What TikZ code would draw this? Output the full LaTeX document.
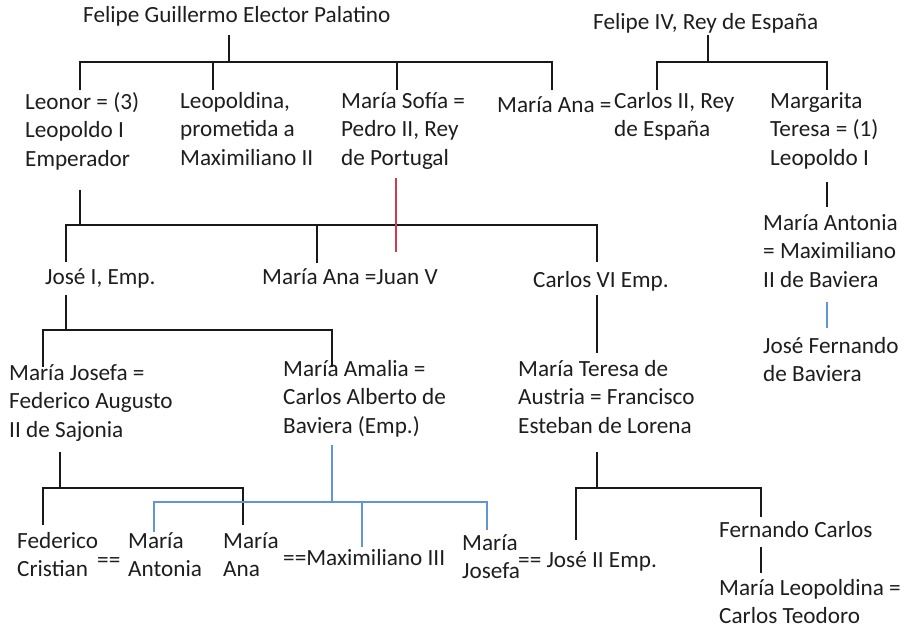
\documentclass[tikz,border=0pt]{standalone}
\usepackage{fontspec}
\setmainfont{Carlito}
\definecolor{kinred}{RGB}{214,56,78}
\definecolor{kinblue}{RGB}{96,150,215}
\definecolor{inkgray}{RGB}{30,30,30}
\tikzset{
  person/.style={anchor=north west, inner sep=0pt, align=left, text=inkgray,
    font=\fontsize{23.2}{28.5}\selectfont, execute at begin node=\strut},
  kin/.style={draw=black!90, line width=2.5pt},
  kinr/.style={draw=kinred, line width=2.3pt},
  kinb/.style={draw=kinblue, line width=2.3pt},
}
\begin{document}
\begin{tikzpicture}[x=1pt,y=-1pt]
\useasboundingbox[fill=white] (0,0) rectangle (907,629);
% people
\node[person] (fgep) at (83,2) {Felipe Guillermo Elector Palatino};
\node[person] (f4) at (593,9) {Felipe IV, Rey de España};
\node[person] (leonor) at (25,92) {Leonor = (3)\\Leopoldo I\\Emperador};
\node[person] (leopoldina) at (180,92) {Leopoldina,\\prometida a\\Maximiliano II};
\node[person] (msofia) at (341,92) {María Sofía =\\Pedro II, Rey\\de Portugal};
\node[person] (mana1) at (497,92) {María Ana =};
\node[person] (carlos2) at (614,92) {Carlos II, Rey\\de España};
\node[person] (margarita) at (770,92) {Margarita\\Teresa = (1)\\Leopoldo I};
\node[person] (mantonia) at (763,214) {María Antonia\\= Maximiliano\\II de Baviera};
\node[person] (josefernando) at (763,337) {José Fernando\\de Baviera};
\node[person] (jose1) at (45,264) {José I, Emp.};
\node[person] (mana2) at (262,264) {María Ana =Juan V};
\node[person] (carlos6) at (533,267) {Carlos VI Emp.};
\node[person] (mjosefa1) at (9,364) {María Josefa =\\Federico Augusto\\II de Sajonia};
\node[person] (mamalia) at (283,360) {María Amalia =\\Carlos Alberto de\\Baviera (Emp.)};
\node[person] (mteresa) at (518,360) {María Teresa de\\Austria = Francisco\\Esteban de Lorena};
\node[person] (fcristian) at (17,532) {Federico\\Cristian};
\node[person] (eq1) at (97,547) {==};
\node[person] (mantonia2) at (128,532) {María\\Antonia};
\node[person] (mana3) at (223,532) {María\\Ana};
\node[person] (maxiii) at (283,545) {==Maximiliano III};
\node[person] (mjosefa2) at (462,534) {María\\Josefa};
\node[person] (jose2) at (518,547) {== José II Emp.};
\node[person] (fcarlos) at (719,517) {Fernando Carlos};
\node[person] (mleopoldina) at (719,579) {María Leopoldina =\\Carlos Teodoro};
% junction coordinates
\coordinate (a0) at (229,35); \coordinate (a1) at (229,62);
\coordinate (aL) at (80,62); \coordinate (aR) at (552,62);
\coordinate (aLd) at (80,90); \coordinate (a2) at (213,62); \coordinate (a2d) at (213,90);
\coordinate (a3) at (397,62); \coordinate (a3d) at (397,90); \coordinate (aRd) at (552,90);
\coordinate (b0) at (708,35); \coordinate (b1) at (708,62);
\coordinate (bL) at (657,62); \coordinate (bR) at (827,62);
\coordinate (bLd) at (657,90); \coordinate (bRd) at (827,90);
\coordinate (c0) at (80,190); \coordinate (c1) at (80,225);
\coordinate (cL) at (66,225); \coordinate (cR) at (597,225);
\coordinate (cLd) at (66,262); \coordinate (c2) at (317,225); \coordinate (c2d) at (317,263);
\coordinate (cRd) at (597,262);
\coordinate (r0) at (396,178); \coordinate (r1) at (396,252);
\coordinate (d0) at (66,295); \coordinate (d1) at (66,330);
\coordinate (dL) at (43,330); \coordinate (dR) at (332,330);
\coordinate (dLd) at (43,367); \coordinate (dRd) at (332,367);
\coordinate (e0) at (597,295); \coordinate (e1) at (597,353);
\coordinate (m0) at (827,182); \coordinate (m1) at (827,207);
\coordinate (n0) at (827,302); \coordinate (n1) at (827,328);
\coordinate (f0) at (60,452); \coordinate (f1) at (60,488);
\coordinate (fL) at (43,488); \coordinate (fR) at (243,488);
\coordinate (fLd) at (43,525); \coordinate (fRd) at (243,525);
\coordinate (g0) at (332,445); \coordinate (g1) at (332,502);
\coordinate (gL) at (154,502); \coordinate (gR) at (487,502);
\coordinate (gLd) at (154,532); \coordinate (g2) at (362,502); \coordinate (g2d) at (362,547);
\coordinate (gRd) at (487,530);
\coordinate (h0) at (597,452); \coordinate (h1) at (597,488);
\coordinate (hL) at (576,488); \coordinate (hR) at (761,488);
\coordinate (hLd) at (576,540); \coordinate (hRd) at (761,517);
\coordinate (k0) at (761,547); \coordinate (k1) at (761,573);
% connectors
\draw[kin] (a0) -- (a1);
\draw[kin] (aLd) -- (aL) -- (aR) -- (aRd);
\draw[kin] (a2) -- (a2d); \draw[kin] (a3) -- (a3d);
\draw[kin] (b0) -- (b1);
\draw[kin] (bLd) -- (bL) -- (bR) -- (bRd);
\draw[kin] (c0) -- (c1);
\draw[kin] (cLd) -- (cL) -- (cR) -- (cRd);
\draw[kin] (c2) -- (c2d);
\draw[kinr] (r0) -- (r1);
\draw[kin] (d0) -- (d1);
\draw[kin] (dLd) -- (dL) -- (dR) -- (dRd);
\draw[kin] (e0) -- (e1);
\draw[kin] (m0) -- (m1);
\draw[kinb] (n0) -- (n1);
\draw[kin] (f0) -- (f1);
\draw[kin] (fLd) -- (fL) -- (fR) -- (fRd);
\draw[kinb] (g0) -- (g1);
\draw[kinb] (gLd) -- (gL) -- (gR) -- (gRd);
\draw[kinb] (g2) -- (g2d);
\draw[kin] (h0) -- (h1);
\draw[kin] (hLd) -- (hL) -- (hR) -- (hRd);
\draw[kin] (k0) -- (k1);
\end{tikzpicture}
\end{document}
